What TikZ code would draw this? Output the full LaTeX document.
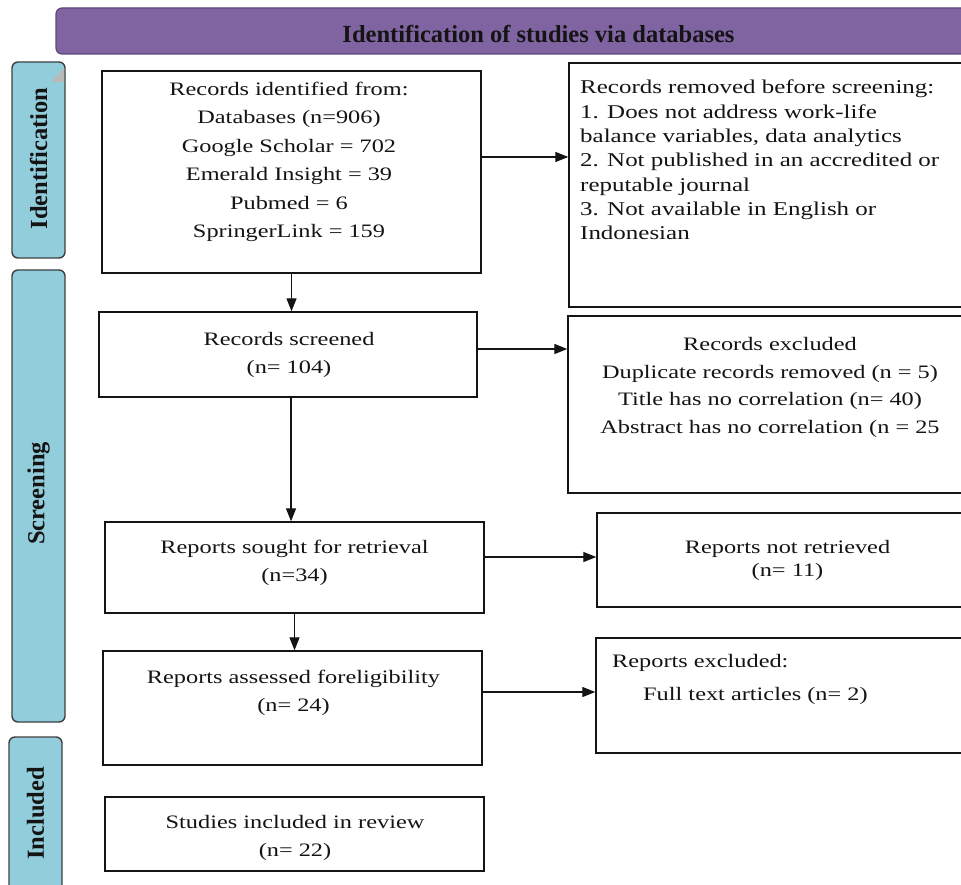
\documentclass[tikz,border=0pt]{standalone}
\usepackage{fontspec}
\setmainfont{Liberation Serif}
\newfontfamily\flowfont[FakeStretch=1.28]{Liberation Serif}
\usepackage{xcolor}
\usetikzlibrary{arrows.meta, positioning, calc}
\definecolor{PrismaPurple}{RGB}{128, 100, 162}
\definecolor{PrismaPurpleDark}{RGB}{92, 72, 120}
\definecolor{PrismaAqua}{RGB}{146, 205, 220}
\definecolor{PrismaEdge}{RGB}{64, 64, 64}
\definecolor{PrismaInk}{RGB}{20, 20, 20}

\begin{document}
\begin{tikzpicture}[x=1pt, y=-1pt,
  box/.style={draw=PrismaInk, line width=1.4pt, inner sep=0pt},
  flowtxt/.style={inner sep=0pt, anchor=north, align=center, text=PrismaInk,
    font=\flowfont\fontsize{19}{28.4}\selectfont},
  stagebar/.style={fill=PrismaAqua, draw=PrismaEdge, line width=1.4pt, rounded corners=6pt},
  stagetxt/.style={rotate=90, inner sep=0pt, text=PrismaInk, font=\bfseries\fontsize{24.5}{28}\selectfont},
  arr/.style={-{Triangle[length=13pt, width=10pt]}, line width=1.3pt, draw=PrismaInk}]
  \path[use as bounding box] (0,0) rectangle (961,885);
  \fill[white] (0,0) rectangle (961,885);
  \clip (0,0) rectangle (961,885);

  \fill[PrismaPurple, rounded corners=6pt] (56,8) rectangle (975,54);
  \draw[PrismaPurpleDark, line width=1.2pt, rounded corners=6pt] (56,8) rectangle (975,54);
  \node[anchor=base, inner sep=0pt, text=PrismaInk, font=\bfseries\fontsize{24.5}{28}\selectfont]
    (bannertxt) at (538.5,43) {Identification of studies via databases};

  \draw[stagebar] (12,62) rectangle (65,258);
  \fill[gray!55] (51,82) -- (64,68) -- (64,82) -- cycle;
  \draw[stagebar] (12,270) rectangle (65,722);
  \draw[stagebar] (9,737) rectangle (62,900);
  \node[stagetxt] (idlbl) at (38.5,158.5) {Identification};
  \node[stagetxt] (scrlbl) at (38.5,493.5) {Screening};
  \node[stagetxt] (inclbl) at (35.5,813.5) {Included};

  \node[box, minimum width=379pt, minimum height=202pt] (ident) at (291.5,172) {};
  \node[box, minimum width=378pt, minimum height=85pt] (screened) at (288,354.5) {};
  \node[box, minimum width=379pt, minimum height=91pt] (sought) at (294.5,567.5) {};
  \node[box, minimum width=379pt, minimum height=114pt] (assessed) at (292.5,708) {};
  \node[box, minimum width=379pt, minimum height=74pt] (included) at (294.5,834) {};
  \node[box, minimum width=406pt, minimum height=244pt] (removed) at (772,185) {};
  \node[box, minimum width=407pt, minimum height=177pt] (excluded) at (771.5,404.5) {};
  \node[box, minimum width=378pt, minimum height=94pt] (notret) at (786,560) {};
  \node[box, minimum width=379pt, minimum height=115pt] (repexcl) at (785.5,695.5) {};

  \node[flowtxt] (identtxt) at (289,82) {Records identified from:\\Databases (n=906)\\Google Scholar = 702\\Emerald Insight = 39\\Pubmed = 6\\SpringerLink = 159};
  \node[flowtxt] (screenedtxt) at (289,332) {Records screened\\(n= 104)};
  \node[flowtxt] (soughttxt) at (294.5,540) {Reports sought for retrieval\\(n=34)};
  \node[flowtxt] (assessedtxt) at (293.5,670) {Reports assessed foreligibility\\(n= 24)};
  \node[flowtxt] (includedtxt) at (295,815) {Studies included in review\\(n= 22)};
  \node[flowtxt, anchor=north west, align=left, font=\flowfont\fontsize{19.5}{24.3}\selectfont]
    (removedtxt) at (580,80) {Records removed before screening:\\1. Does not address work-life\\balance variables, data analytics\\2. Not published in an accredited or\\reputable journal\\3. Not available in English or\\Indonesian};
  \node[flowtxt, font=\flowfont\fontsize{19}{27.7}\selectfont]
    (excludedtxt) at (770,337) {Records excluded\\Duplicate records removed (n = 5)\\Title has no correlation (n= 40)\\Abstract has no correlation (n = 25};
  \node[flowtxt, font=\flowfont\fontsize{19}{23}\selectfont] (notrettxt) at (787.5,540) {Reports not retrieved\\(n= 11)};
  \node[flowtxt, anchor=north west, align=left, font=\flowfont\fontsize{19}{33}\selectfont]
    (repexcltxt) at (612,654) {Reports excluded:\\\hspace*{31pt}Full text articles (n= 2)};

  \draw[arr] (ident.south) -- (ident.south |- screened.north);
  \coordinate (s1) at ([xshift=3pt]screened.south);
  \draw[arr] (s1) -- (s1 |- sought.north);
  \draw[arr] (sought.south) -- (sought.south |- assessed.north);

  \coordinate (h1) at ([yshift=15pt]ident.east);
  \draw[arr] (h1) -- (h1 -| removed.west);
  \coordinate (h2) at ([yshift=5.5pt]screened.east);
  \draw[arr] (h2) -- (h2 -| excluded.west);
  \coordinate (h3) at ([yshift=10.5pt]sought.east);
  \draw[arr] (h3) -- (h3 -| notret.west);
  \coordinate (h4) at ([yshift=16pt]assessed.east);
  \draw[arr] (h4) -- (h4 -| repexcl.west);
\end{tikzpicture}
\end{document}
